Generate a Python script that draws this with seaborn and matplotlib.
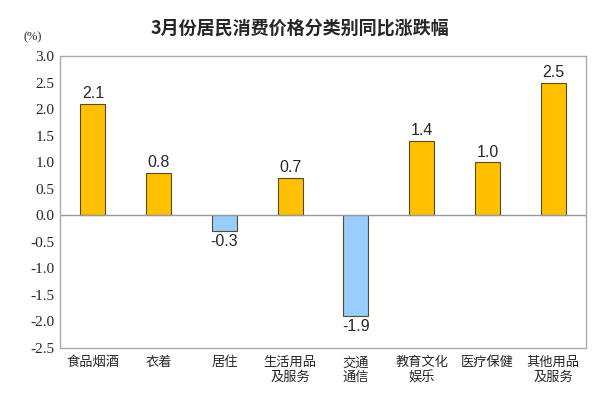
import matplotlib
matplotlib.use('Agg')
import matplotlib.pyplot as plt
import seaborn as sns
import numpy as np

categories = ['食品烟酒', '衣着', '居住', '生活用品\n及服务', '交通\n通信', '教育文化\n娱乐', '医疗保健', '其他用品\n及服务']
values = [2.1, 0.8, -0.3, 0.7, -1.9, 1.4, 1.0, 2.5]
y_ticks = [3.0, 2.5, 2.0, 1.5, 1.0, 0.5, 0.0, -0.5, -1.0, -1.5, -2.0, -2.5]

sns.set_style('white')
plt.rcParams['font.family'] = ['Noto Sans CJK SC', 'DejaVu Sans']
plt.rcParams['font.serif'] = ['Liberation Serif', 'DejaVu Serif']

colors = ['#FFC000' if v >= 0 else '#99CCFF' for v in values]

fig = plt.figure(figsize=(6, 4.04), dpi=100)
ax = fig.add_axes([0.1, 0.139, 0.877, 0.722])
sns.barplot(x=categories, y=values, hue=categories, palette=colors, legend=False,
            width=0.38, edgecolor='#5a4a20', linewidth=0.8, saturation=1, ax=ax)

ax.axhline(0, color='#999999', linewidth=1)
ax.set_ylim(-2.5, 3.0)
ax.set_yticks(y_ticks)
ax.set_yticklabels([f'{t:.1f}' for t in y_ticks], fontfamily='serif', fontsize=11)
ax.tick_params(axis='both', length=0, pad=4)
ax.tick_params(axis='x', labelsize=9.5, pad=6)
ax.set_xlabel('')
ax.set_ylabel('')
for s in ax.spines.values():
    s.set_color('#aaaaaa')
    s.set_linewidth(1)

for i, v in enumerate(values):
    off = 0.05 if v >= 0 else -0.05
    ax.text(i, v + off, f'{v:.1f}', ha='center', va='bottom' if v >= 0 else 'top',
            fontsize=11.5, family='Liberation Sans')

fig.text(0.055, 0.908, '(%)', fontfamily='serif', fontsize=9, ha='center', va='center')
fig.suptitle('3月份居民消费价格分类别同比涨跌幅', y=0.955, fontsize=13, fontweight='bold', x=0.5)

fig.savefig('out.png', dpi=100)
plt.close(fig)
